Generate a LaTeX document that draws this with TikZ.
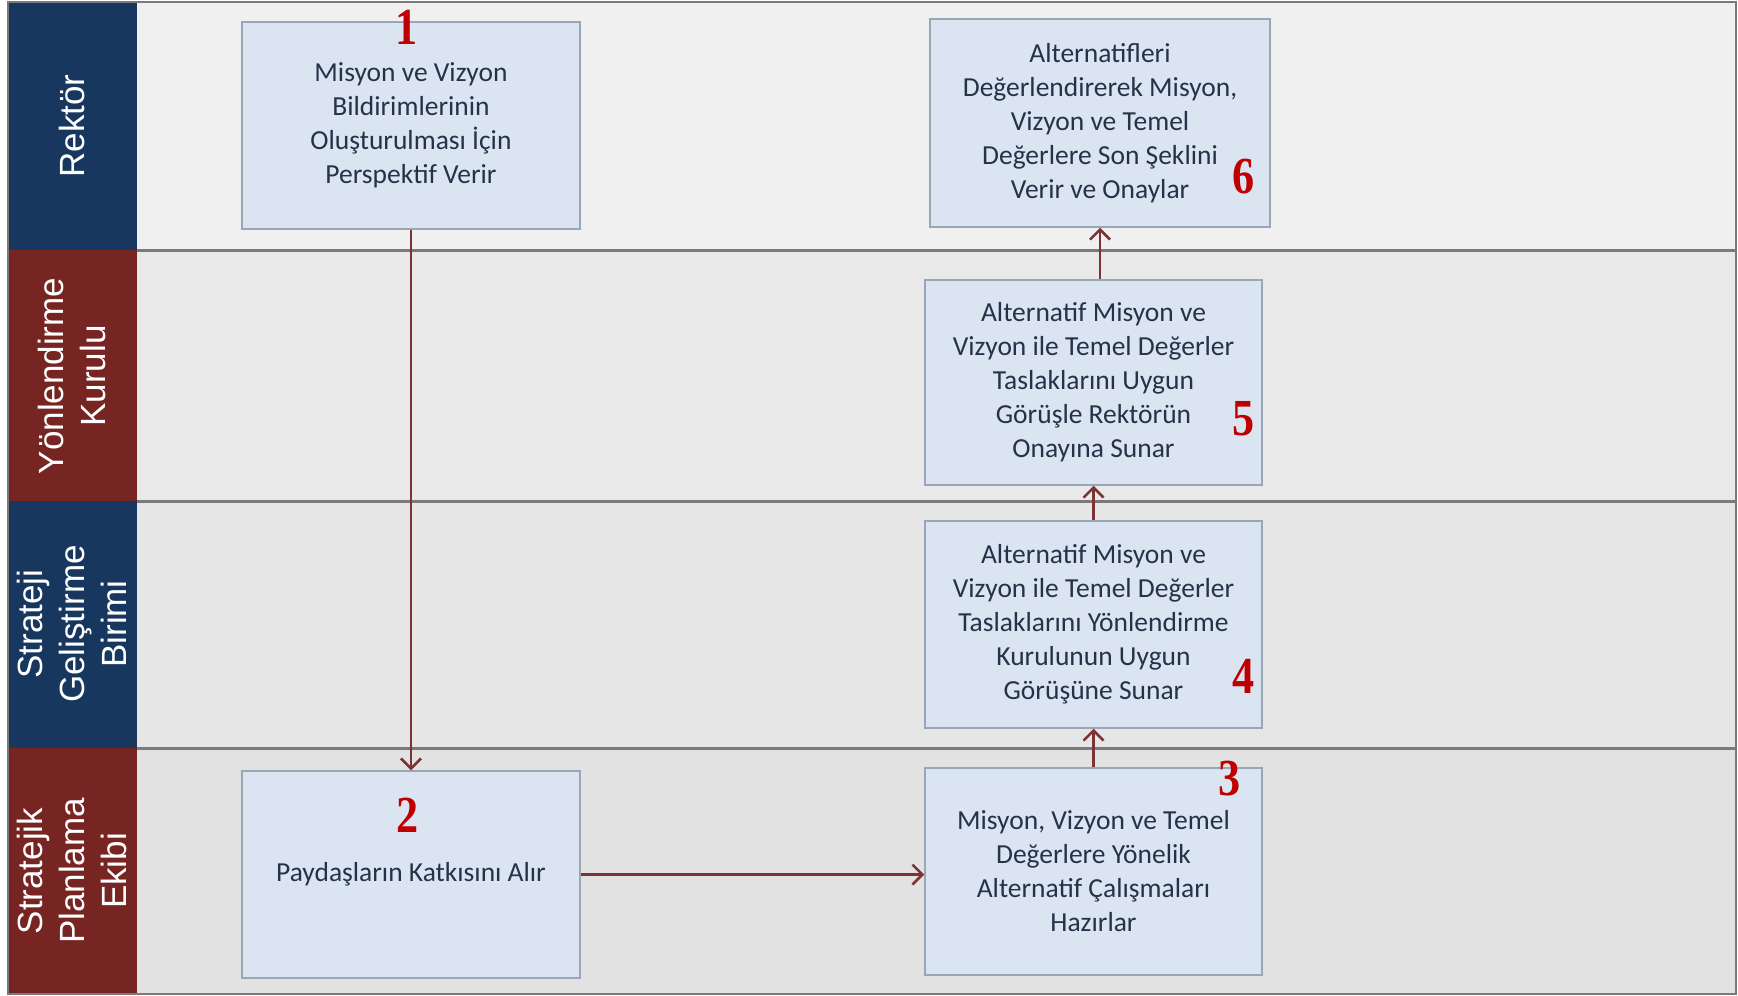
\documentclass[tikz,border=0pt]{standalone}
\usepackage{fontspec}
\setmainfont{Carlito}
\newfontfamily\lanefont{Liberation Sans}
\newfontfamily\numfont{Liberation Serif}
\usetikzlibrary{arrows.meta}
\definecolor{navy}{HTML}{17375E}
\definecolor{darkred}{HTML}{772523}
\definecolor{boxfill}{HTML}{DBE5F1}
\definecolor{boxline}{HTML}{9AA6B6}
\definecolor{boxtext}{HTML}{27324A}
\definecolor{arrowc}{HTML}{7B3333}
\definecolor{numred}{HTML}{C00000}
\definecolor{sepline}{HTML}{7A7A7A}
\begin{document}
\begin{tikzpicture}[x=1pt,y=-1pt,
  stepbox/.style={draw=boxline, line width=1.5pt, fill=boxfill, text=boxtext,
    align=center, font=\fontsize{27.5}{34}\selectfont, inner sep=0pt,
    minimum width=#1},
  lanelabel/.style={text=white, align=center, rotate=90,
    font=\lanefont\fontsize{35}{42}\selectfont},
  stepnum/.style={text=numred, font=\numfont\bfseries\fontsize{52}{52}\selectfont, inner sep=0pt},
  flow/.style={draw=arrowc, line width=2.5pt, -{Straight Barb[length=10pt,width=20pt,line width=2.5pt]}}
]
\useasboundingbox (0,0) rectangle (1738,996);
% lane backgrounds
\fill[white] (0,0) rectangle (1738,996);
\fill[fill={rgb,255:red,240;green,240;blue,240}] (137,2) rectangle (1736,250);
\fill[fill={rgb,255:red,233;green,233;blue,233}] (137,250) rectangle (1736,501);
\fill[fill={rgb,255:red,230;green,230;blue,230}] (137,501) rectangle (1736,748);
\fill[fill={rgb,255:red,226;green,226;blue,226}] (137,748) rectangle (1736,994);
% left header column
\fill[navy] (8,2) rectangle (137,250);
\fill[darkred] (8,250) rectangle (137,501);
\fill[navy] (8,501) rectangle (137,748);
\fill[darkred] (8,748) rectangle (137,994);
% separators
\draw[sepline, line width=3pt] (137,250) -- (1736,250);
\draw[sepline, line width=3pt] (137,501) -- (1736,501);
\draw[sepline, line width=3pt] (137,748) -- (1736,748);
\draw[sepline, line width=2.5pt] (8,2) rectangle (1736,994);
% lane labels
\node[lanelabel] (l1) at (72,126) {Rektör};
\node[lanelabel] (l2) at (72,376) {Yönlendirme\\Kurulu};
\node[lanelabel] (l3) at (72,624) {Strateji\\Geliştirme\\Birimi};
\node[lanelabel] (l4) at (72,871) {Stratejik\\Planlama\\Ekibi};
% steps
\node[stepbox=338pt, minimum height=207pt] (b1) at (411,125.5)
  {Misyon ve Vizyon\\Bildirimlerinin\\Oluşturulması İçin\\Perspektif Verir};
\node[stepbox=338pt, minimum height=207pt] (b2) at (411,874.5)
  {Paydaşların Katkısını Alır};
\node[stepbox=337pt, minimum height=207pt] (b3) at (1093.5,871.5)
  {Misyon, Vizyon ve Temel\\Değerlere Yönelik\\Alternatif Çalışmaları\\Hazırlar};
\node[stepbox=337pt, minimum height=207pt] (b4) at (1093.5,624.5)
  {Alternatif Misyon ve\\Vizyon ile Temel Değerler\\Taslaklarını Yönlendirme\\Kurulunun Uygun\\Görüşüne Sunar};
\node[stepbox=337pt, minimum height=205pt] (b5) at (1093.5,382.5)
  {Alternatif Misyon ve\\Vizyon ile Temel Değerler\\Taslaklarını Uygun\\Görüşle Rektörün\\Onayına Sunar};
\node[stepbox=340pt, minimum height=208pt] (b6) at (1100,123)
  {Alternatifleri\\Değerlendirerek Misyon,\\Vizyon ve Temel\\Değerlere Son Şeklini\\Verir ve Onaylar};
% numbers
\node[stepnum] (n1) at (407,27) {\scalebox{0.85}[1]{1}};
\node[stepnum] (n2) at (408,815) {\scalebox{0.85}[1]{2}};
\node[stepnum] (n3) at (1230,779) {\scalebox{0.85}[1]{3}};
\node[stepnum] (n4) at (1244,676) {\scalebox{0.85}[1]{4}};
\node[stepnum] (n5) at (1244,419) {\scalebox{0.85}[1]{5}};
\node[stepnum] (n6) at (1244,177) {\scalebox{0.85}[1]{6}};
% connectors
\draw[flow] (b1.south) -- (b2.north);
\draw[flow] (b2.east) -- (b2.east -| b3.west);
\draw[flow] (b3.north) -- (b4.south);
\draw[flow] (b4.north) -- (b5.south);
\draw[flow] (b5.north -| b6.south) -- (b6.south);
\end{tikzpicture}
\end{document}
